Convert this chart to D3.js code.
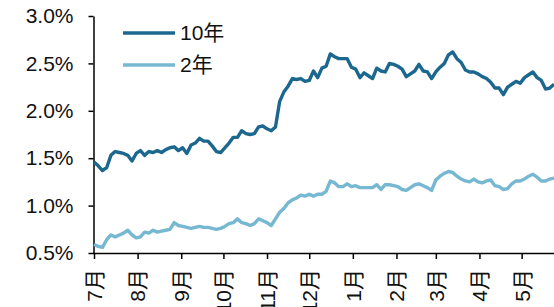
<!DOCTYPE html>
<html>
<head>
<meta charset="utf-8">
<script src="https://cdn.jsdelivr.net/npm/d3@7"></script>
<style>
  html, body { margin: 0; padding: 0; background: #fff; }
  svg { display: block; font-family: 'Liberation Sans', Arial, 'Noto Sans CJK SC', sans-serif; }
  .axis path, .axis line { stroke: #000; stroke-width: 1.5; }
  .axis text { fill: #111; }
</style>
</head>
<body>
<script>
// Observation dates (every third day)
const dates = [
  '2016-07-01','2016-07-04','2016-07-07','2016-07-10','2016-07-13','2016-07-16','2016-07-19','2016-07-22','2016-07-25','2016-07-28',
  '2016-07-31','2016-08-03','2016-08-06','2016-08-09','2016-08-12','2016-08-15','2016-08-18','2016-08-21','2016-08-24','2016-08-27',
  '2016-08-30','2016-09-02','2016-09-05','2016-09-08','2016-09-11','2016-09-14','2016-09-17','2016-09-20','2016-09-23','2016-09-26',
  '2016-09-29','2016-10-02','2016-10-05','2016-10-08','2016-10-11','2016-10-14','2016-10-17','2016-10-20','2016-10-23','2016-10-26',
  '2016-10-29','2016-11-01','2016-11-04','2016-11-07','2016-11-10','2016-11-13','2016-11-16','2016-11-19','2016-11-22','2016-11-25',
  '2016-11-28','2016-12-01','2016-12-04','2016-12-07','2016-12-10','2016-12-13','2016-12-16','2016-12-19','2016-12-22','2016-12-25',
  '2016-12-28','2016-12-31','2017-01-03','2017-01-06','2017-01-09','2017-01-12','2017-01-15','2017-01-18','2017-01-21','2017-01-24',
  '2017-01-27','2017-01-30','2017-02-02','2017-02-05','2017-02-08','2017-02-11','2017-02-14','2017-02-17','2017-02-20','2017-02-23',
  '2017-02-26','2017-03-01','2017-03-04','2017-03-07','2017-03-10','2017-03-13','2017-03-16','2017-03-19','2017-03-22','2017-03-25',
  '2017-03-28','2017-03-31','2017-04-03','2017-04-06','2017-04-09','2017-04-12','2017-04-15','2017-04-18','2017-04-21','2017-04-24',
  '2017-04-27','2017-04-30','2017-05-03','2017-05-06','2017-05-09','2017-05-12','2017-05-15','2017-05-18','2017-05-21','2017-05-24'
];

// 10年 yield, %
const yield10y = [
  1.46,1.42,1.37,1.40,1.53,1.57,1.56,1.55,1.53,1.47,
  1.55,1.58,1.53,1.57,1.56,1.58,1.56,1.59,1.61,1.62,
  1.58,1.61,1.55,1.64,1.66,1.71,1.68,1.68,1.63,1.57,
  1.56,1.61,1.66,1.72,1.72,1.79,1.76,1.75,1.76,1.83,
  1.84,1.81,1.79,1.83,2.10,2.20,2.26,2.34,2.33,2.34,
  2.31,2.32,2.42,2.35,2.45,2.47,2.60,2.57,2.55,2.55,
  2.55,2.46,2.44,2.35,2.40,2.37,2.34,2.45,2.42,2.41,
  2.50,2.49,2.47,2.44,2.36,2.39,2.42,2.49,2.42,2.41,
  2.34,2.41,2.46,2.50,2.59,2.62,2.55,2.51,2.43,2.41,
  2.41,2.39,2.36,2.34,2.30,2.24,2.24,2.17,2.25,2.28,
  2.31,2.29,2.35,2.38,2.41,2.35,2.32,2.23,2.24,2.28
];

// 2年 yield, %
const yield2y = [
  0.59,0.57,0.56,0.64,0.69,0.67,0.69,0.71,0.74,0.69,
  0.66,0.67,0.72,0.71,0.74,0.72,0.73,0.74,0.75,0.82,
  0.79,0.78,0.77,0.76,0.77,0.78,0.77,0.77,0.76,0.75,
  0.76,0.78,0.81,0.82,0.86,0.82,0.81,0.79,0.81,0.86,
  0.84,0.82,0.79,0.86,0.93,0.97,1.03,1.06,1.08,1.11,
  1.10,1.12,1.10,1.12,1.12,1.15,1.26,1.24,1.20,1.20,
  1.23,1.20,1.21,1.19,1.19,1.19,1.19,1.22,1.17,1.22,
  1.22,1.21,1.20,1.17,1.16,1.19,1.22,1.23,1.21,1.19,
  1.16,1.27,1.31,1.34,1.36,1.35,1.31,1.28,1.26,1.25,
  1.28,1.25,1.24,1.26,1.27,1.21,1.20,1.17,1.18,1.23,
  1.26,1.26,1.28,1.31,1.33,1.30,1.26,1.26,1.28,1.29
];

const yTicks = [0.5, 1.0, 1.5, 2.0, 2.5, 3.0];
const monthTicks = [
  '2016-07-01','2016-08-01','2016-09-01','2016-10-01','2016-11-01','2016-12-01',
  '2017-01-01','2017-02-01','2017-03-01','2017-04-01','2017-05-01'
];
const seriesNames = ['10年', '2年'];
const colors = ['#1b678e', '#76b7d1'];

const parse = d3.timeParse('%Y-%m-%d');

const fullWidth = 554;
const fullHeight = 307;
const plot = { left: 94, right: 554, top: 16, bottom: 253 };
const fontSize = 21;

const svg = d3.select('body')
  .append('svg')
  .attr('width', fullWidth)
  .attr('height', fullHeight);

const xScale = d3.scaleTime()
  .domain([parse('2016-07-01'), parse('2017-05-24')])
  .range([plot.left, plot.right]);

const yScale = d3.scaleLinear()
  .domain([0.5, 3.0])
  .range([plot.bottom, plot.top]);

// Y axis
svg.append('g')
  .attr('class', 'axis')
  .attr('transform', `translate(${plot.left - 0.5}, 0)`)
  .call(d3.axisLeft(yScale)
    .tickValues(yTicks)
    .tickFormat(d => d.toFixed(1) + '%')
    .tickSize(5)
    .tickSizeOuter(0)
    .tickPadding(15))
  .attr('font-size', fontSize)
  .attr('font-family', null);

// X axis
const xAxis = svg.append('g')
  .attr('class', 'axis')
  .attr('transform', `translate(0, ${plot.bottom})`)
  .call(d3.axisBottom(xScale)
    .tickValues(monthTicks.map(parse))
    .tickFormat(d => (d.getMonth() + 1) + '月')
    .tickSize(6)
    .tickSizeOuter(0))
  .attr('font-size', fontSize)
  .attr('font-family', null);

xAxis.select('.domain').attr('d', `M${plot.left - 1},0.5H${plot.right}`);

xAxis.selectAll('.tick text')
  .attr('transform', 'rotate(-90)')
  .attr('text-anchor', 'end')
  .attr('x', -16)
  .attr('y', 0)
  .attr('dy', '0.35em');

// Lines
const series = [yield10y, yield2y];
const line = d3.line()
  .x((d, i) => xScale(parse(dates[i])))
  .y(d => yScale(d));

series.forEach((values, k) => {
  svg.append('path')
    .datum(values)
    .attr('fill', 'none')
    .attr('stroke', colors[k])
    .attr('stroke-width', 3.4)
    .attr('stroke-linejoin', 'round')
    .attr('d', line);
});

// Legend
const leg = svg.append('g');
seriesNames.forEach((name, k) => {
  const y = 33 + k * 32;
  leg.append('line')
    .attr('x1', 123).attr('x2', 175)
    .attr('y1', y).attr('y2', y)
    .attr('stroke', colors[k])
    .attr('stroke-width', 3.5);
  leg.append('text')
    .attr('x', 180)
    .attr('y', y)
    .attr('dy', '0.35em')
    .style('font-size', fontSize + 'px')
    .style('fill', '#111')
    .text(name);
});
</script>
</body>
</html>
